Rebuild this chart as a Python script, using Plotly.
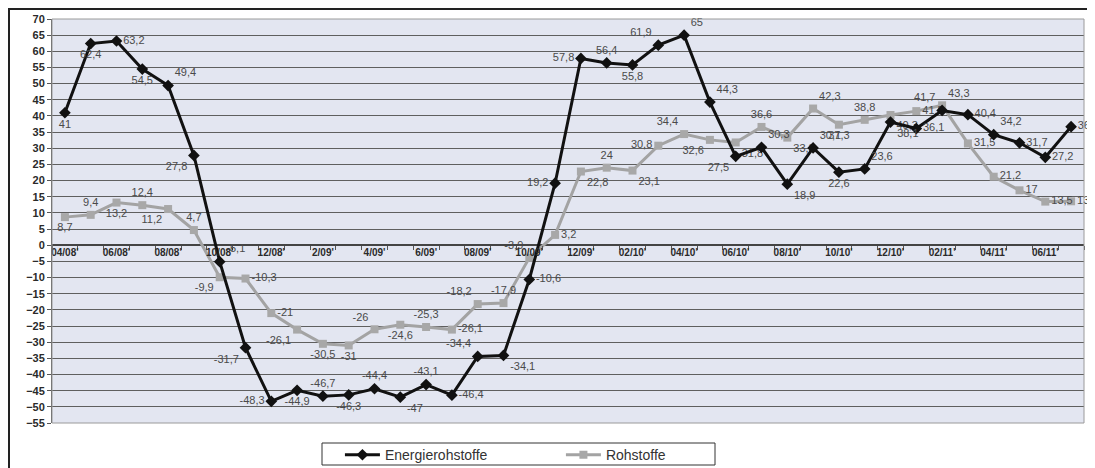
import plotly.graph_objects as go

months = ["04/08", "05/08", "06/08", "07/08", "08/08", "09/08", "10/08", "11/08",
          "12/08", "01/09", "02/09", "03/09", "04/09", "05/09", "06/09", "07/09",
          "08/09", "09/09", "10/09", "11/09", "12/09", "01/10", "02/10", "03/10",
          "04/10", "05/10", "06/10", "07/10", "08/10", "09/10", "10/10", "11/10",
          "12/10", "01/11", "02/11", "03/11", "04/11", "05/11", "06/11", "07/11"]

tick_labels = ["04/08'", "06/08'", "08/08'", "10/08'", "12/08'", "2/09'", "4/09'",
               "6/09'", "08/09'", "10/09'", "12/09'", "02/10'", "04/10'", "06/10'",
               "08/10'", "10/10'", "12/10'", "02/11'", "04/11'", "06/11'"]

energie = [41, 62.4, 63.2, 54.5, 49.4, 27.8, -5.1, -31.7,
           -48.3, -44.9, -46.7, -46.3, -44.4, -47, -43.1, -46.4,
           -34.4, -34.1, -10.6, 19.2, 57.8, 56.4, 55.8, 61.9,
           65, 44.3, 27.5, 30.3, 18.9, 30.1, 22.6, 23.6,
           38.1, 36.1, 41.7, 40.4, 34.2, 31.7, 27.2, 36.7]

rohstoffe = [8.7, 9.4, 13.2, 12.4, 11.2, 4.7, -9.9, -10.3,
             -21, -26.1, -30.5, -31, -26, -24.6, -25.3, -26.1,
             -18.2, -17.9, -3.9, 3.2, 22.8, 24, 23.1, 30.8,
             34.4, 32.6, 31.8, 36.6, 33.3, 42.3, 37.3, 38.8,
             40.3, 41.5, 43.3, 31.5, 21.2, 17, 13.5, 13.6]

pos_energie = ["bottom center", "bottom center", "middle right", "bottom center", "top right",
               "bottom left", "top right", "bottom left", "middle left", "bottom center",
               "top center", "bottom center", "top center", "bottom right", "top center",
               "middle right", "top left", "bottom right", "middle right", "middle left",
               "middle left", "top center", "bottom center", "top left", "top right",
               "top right", "bottom left", "top right", "bottom right", "top right",
               "bottom center", "top right", "bottom right", "middle right", "top left",
               "middle right", "top right", "middle right", "middle right", "middle right"]

pos_rohstoffe = ["bottom center", "top center", "bottom center", "top center", "bottom left",
                 "top center", "bottom left", "middle right", "middle right", "bottom left",
                 "bottom center", "bottom center", "top left", "bottom center", "top center",
                 "middle right", "top left", "top center", "top left", "middle right",
                 "bottom right", "top center", "bottom right", "middle left", "top left",
                 "bottom left", "bottom right", "top center", "bottom right", "top right",
                 "bottom center", "top center", "bottom right", "middle right", "top right",
                 "middle right", "middle right", "middle right", "middle right", "middle right"]


def fmt(v):
    return f"{v:g}".replace(".", ",")


x = list(range(len(months)))
label_font = dict(family="Liberation Sans, Arial", size=11, color="#4a4a4a")
axis_font = dict(family="Liberation Sans, Arial", size=11, color="#2a2a2a", weight="bold")

trace_roh = go.Scatter(x=x, y=rohstoffe, name="Rohstoffe",
                       mode="lines+markers+text",
                       line=dict(color="#a3a3a3", width=3),
                       marker=dict(symbol="square", size=8, color="#a8a8a8"),
                       text=[fmt(v) for v in rohstoffe],
                       textposition=pos_rohstoffe,
                       textfont=label_font,
                       cliponaxis=False)

trace_en = go.Scatter(x=x, y=energie, name="Energierohstoffe",
                      mode="lines+markers+text",
                      line=dict(color="#111111", width=3),
                      marker=dict(symbol="diamond", size=9, color="#111111"),
                      text=[fmt(v) for v in energie],
                      textposition=pos_energie,
                      textfont=label_font,
                      cliponaxis=False)

fig = go.Figure(data=[trace_roh, trace_en])

# page body has an 8px margin, so the figure starts at (8, 8)
fig.update_layout(
    width=1087, height=460,
    margin=dict(l=44, r=11, t=11, b=45, autoexpand=False),
    paper_bgcolor="white",
    plot_bgcolor="#e3e6f1",
    font=dict(family="Liberation Sans, Arial", color="#333333"),
    showlegend=True,
    legend=dict(orientation="h", x=0.279, y=-0.04, xanchor="left", yanchor="top",
                traceorder="reversed",
                borderwidth=0, bgcolor="rgba(0,0,0,0)",
                font=dict(size=14, color="#333333"),
                entrywidth=171, itemwidth=35),
    xaxis=dict(range=[-0.5, len(months) - 0.5],
               tickmode="array",
               tickvals=x[::2], ticktext=tick_labels,
               ticks="", showgrid=False, zeroline=False,
               showline=False,
               anchor="free", position=55 / 125,
               tickfont=dict(axis_font, size=10),
               minor=dict(tickmode="linear", tick0=-0.5, dtick=1, ticks="outside",
                          ticklen=4, tickcolor="#555555", showgrid=False)),
    yaxis=dict(range=[-55, 70], tickmode="linear", tick0=-55, dtick=5,
               showgrid=True, gridcolor="#5f5f5f", gridwidth=1,
               zeroline=True, zerolinecolor="#444444", zerolinewidth=1.5,
               showline=True, linecolor="#555555", linewidth=1,
               ticks="outside", ticklen=4, tickcolor="#555555",
               tickfont=axis_font),
    shapes=[
        # plot area frame
        dict(type="rect", xref="paper", yref="paper", x0=0, y0=0, x1=1, y1=1,
             line=dict(color="#9a9a9a", width=1), layer="above"),
        # chart area frame
        dict(type="rect", xref="paper", yref="paper",
             x0=-43 / 1032, y0=-50 / 404, x1=1.02, y1=1 + 10 / 404,
             line=dict(color="#222222", width=2), layer="below"),
        # legend box
        dict(type="rect", xref="paper", yref="paper",
             x0=270 / 1032, y0=-42 / 404, x1=663 / 1032, y1=-20 / 404,
             line=dict(color="#333333", width=1), fillcolor="white", layer="below"),
    ],
)

fig.write_html("out.html")
